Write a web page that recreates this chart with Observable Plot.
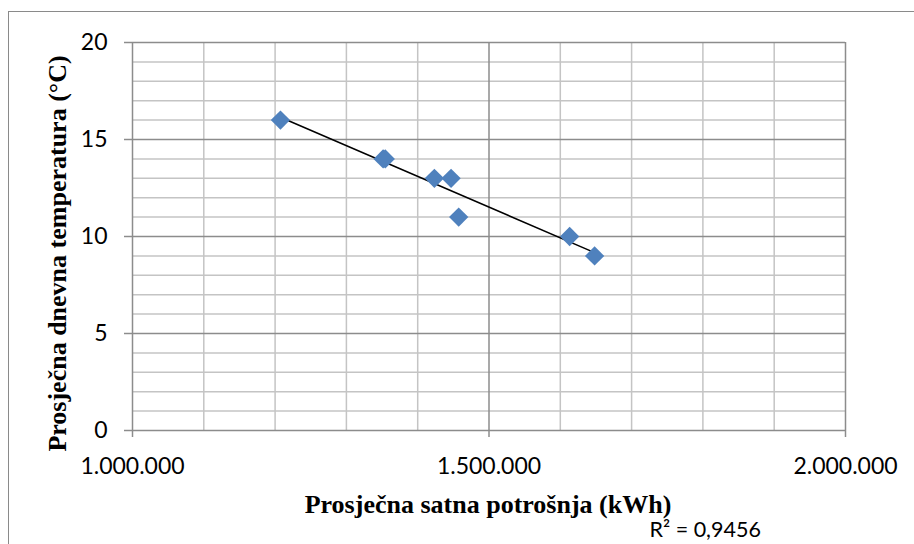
<!DOCTYPE html>
<html>
<head>
<meta charset="utf-8">
<script src="https://cdn.jsdelivr.net/npm/d3@7"></script>
<script src="https://cdn.jsdelivr.net/npm/@observablehq/plot@0.6"></script>
<style>
  html, body { margin: 0; padding: 0; background: #fff; overflow: hidden; }
  #wrap { position: relative; width: 914px; height: 544px; }
  #frame { position: absolute; left: 8px; top: 11px; width: 1000px; height: 1000px;
           border-left: 1.5px solid #8a8a8a; border-top: 1.5px solid #8a8a8a; pointer-events: none; }
  #chart { position: absolute; left: 0; top: 0; }
</style>
</head>
<body>
<div id="wrap"><div id="frame"></div><div id="chart"></div></div>
<script>
// Data
const consumption = [1207500, 1351500, 1354500, 1423400, 1446800, 1457500, 1613100, 1648100];
const temperature = [16, 14, 14, 13, 13, 11, 10, 9];

const xMajorTicks = [1000000, 1500000, 2000000];
const xMinorTicks = [1100000, 1200000, 1300000, 1400000, 1600000, 1700000, 1800000, 1900000];
const yMajorTicks = [0, 5, 10, 15, 20];
const yMinorTicks = [1, 2, 3, 4, 6, 7, 8, 9, 11, 12, 13, 14, 16, 17, 18, 19];

const xLabel = "Prosječna satna potrošnja (kWh)";
const yLabel = "Prosječna dnevna temperatura (°C)";
const r2Label = "R² = 0,9456";

const data = consumption.map((c, i) => ({x: c, y: temperature[i]}));
const fmt = d => d3.format(",")(d).replace(/,/g, ".");

const sans = "Lato, 'Open Sans', sans-serif";
const serif = "'Liberation Serif', 'DejaVu Serif', serif";

const chart = Plot.plot({
  width: 914,
  height: 544,
  marginLeft: 132,
  marginRight: 69,
  marginTop: 42,
  marginBottom: 114,
  style: {background: "transparent", fontFamily: sans},
  x: {domain: [1000000, 2000000]},
  y: {domain: [0, 20]},
  marks: [
    Plot.gridX(xMinorTicks, {stroke: "#c4c4c4", strokeOpacity: 1, strokeWidth: 1.5}),
    Plot.gridY(yMinorTicks, {stroke: "#c4c4c4", strokeOpacity: 1, strokeWidth: 1.5}),
    Plot.gridX(xMajorTicks, {stroke: "#8c8c8c", strokeOpacity: 1, strokeWidth: 1.5}),
    Plot.gridY(yMajorTicks, {stroke: "#8c8c8c", strokeOpacity: 1, strokeWidth: 1.5}),
    Plot.axisY(yMajorTicks, {tickSize: 8, tickPadding: 17, fontSize: 23, fill: "#000", stroke: "#8c8c8c", strokeWidth: 1.5, label: null}),
    Plot.axisX(xMajorTicks, {tickSize: 7, tickPadding: 20, fontSize: 23, fill: "#000", stroke: "#8c8c8c", strokeWidth: 1.5, tickFormat: fmt, label: null}),
    Plot.linearRegressionY(data, {x: "x", y: "y", ci: 0, stroke: "#000", strokeWidth: 1.5}),
    Plot.dot(data, {x: "x", y: "y", symbol: "diamond2", r: 8.7, fill: "#4F81BD", stroke: "none"}),
    Plot.text([yLabel], {frameAnchor: "left", rotate: -90, dx: -75, dy: 17, text: d => d,
      fontFamily: serif, fontWeight: "bold", fontSize: 26, fill: "#000", lineAnchor: "middle", textAnchor: "middle"}),
    Plot.text([xLabel], {frameAnchor: "bottom", dx: -1, dy: 74, text: d => d,
      fontFamily: serif, fontWeight: "bold", fontSize: 26, fill: "#000", lineAnchor: "middle", textAnchor: "middle"}),
    Plot.text([r2Label], {frameAnchor: "bottom-left", dx: 517, dy: 100, text: d => d,
      fontFamily: sans, fontSize: 21.5, fill: "#000", lineAnchor: "middle", textAnchor: "start"})
  ]
});
document.getElementById("chart").appendChild(chart);
</script>
</body>
</html>
